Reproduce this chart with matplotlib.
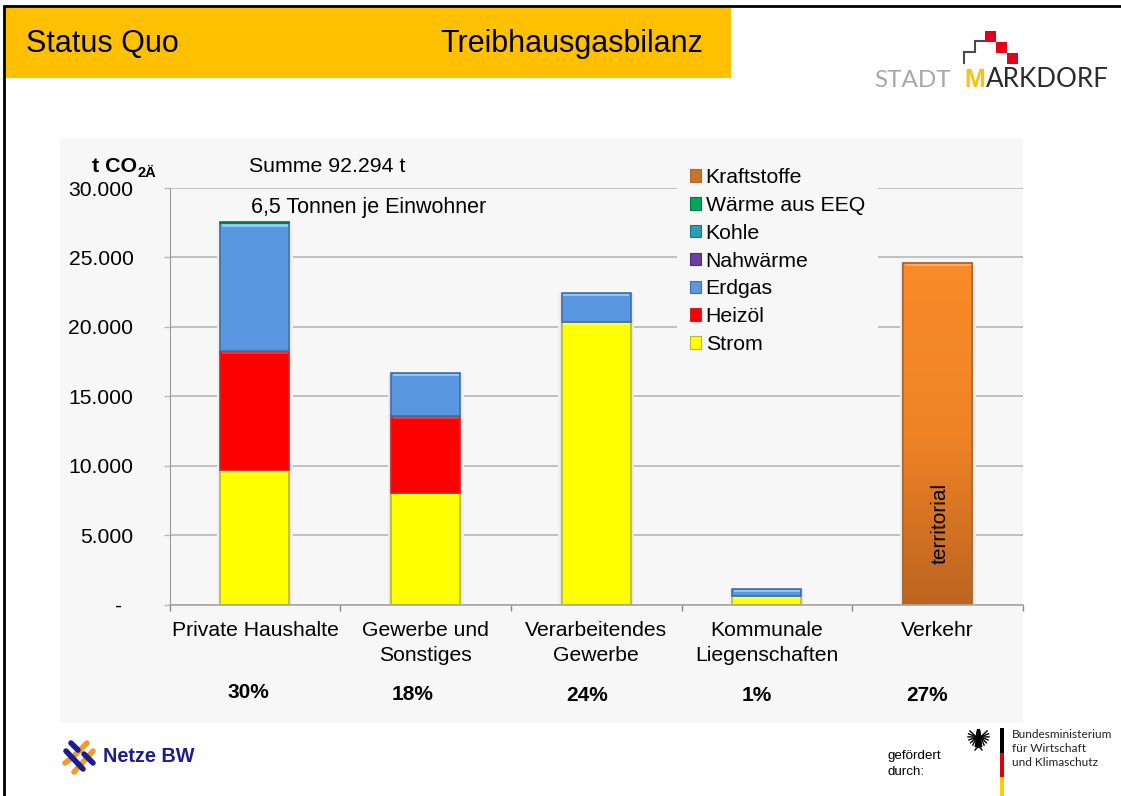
#!/usr/bin/env python3

import matplotlib
matplotlib.use('Agg')
import numpy as np
import matplotlib.pyplot as plt
from matplotlib.colors import LinearSegmentedColormap
from matplotlib.patches import Rectangle, Patch, Polygon
from matplotlib.ticker import FixedLocator, FixedFormatter

plt.rcParams['font.family'] = ['Liberation Sans', 'DejaVu Sans']

# -----------------------------
# Data
# -----------------------------
categories = ['Private Haushalte', 'Gewerbe und\nSonstiges', 'Verarbeitendes\nGewerbe',
              'Kommunale\nLiegenschaften', 'Verkehr']
shares = ['30%', '18%', '24%', '1%', '27%']
strom = [9690, 8030, 20350, 610, 0]
heizoel = [8560, 5550, 0, 0, 0]
erdgas = [9200, 3090, 2080, 510, 0]
nahwaerme = [0, 0, 0, 0, 0]
kohle = [0, 0, 0, 0, 0]
waerme_eeq = [100, 0, 0, 0, 0]
kraftstoffe = [0, 0, 0, 0, 24600]
y_ticks = [0, 5000, 10000, 15000, 20000, 25000, 30000]
y_tick_labels = ['-  ', '5.000', '10.000', '15.000', '20.000', '25.000', '30.000']

series = [
    ('Strom', strom, '#FFFF00', '#B9B92A', '#FFFF33'),
    ('Heizöl', heizoel, '#FF0000', '#C8262A', '#FF3030'),
    ('Erdgas', erdgas, '#5B96E0', '#3E6FA8', '#8FC8F2'),
    ('Nahwärme', nahwaerme, '#6A3F9E', '#4E2F75', '#8E66BE'),
    ('Kohle', kohle, '#2E9DB5', '#1F7487', '#62C6DC'),
    ('Wärme aus EEQ', waerme_eeq, '#00A65A', '#007A45', '#00A65A'),
    ('Kraftstoffe', kraftstoffe, '#F98B28', '#A96A35', '#FBA860'),
]

W, H = 1121, 796
PANEL = '#F7F7F7'


def fx(px):
    return px / W


def fy(py):
    return 1 - py / H


fig = plt.figure(figsize=(W / 100, H / 100), dpi=100, facecolor='white')

# -----------------------------
# Page background (pixel coordinates)
# -----------------------------
bg = fig.add_axes([0, 0, 1, 1], zorder=0)
bg.set_xlim(0, W)
bg.set_ylim(H, 0)
bg.axis('off')
bg.add_patch(Rectangle((60, 138), 963, 585, fc=PANEL, ec='none'))
bg.add_patch(Rectangle((5, 8), 726, 70, fc='#FFC000', ec='none'))
bg.plot([4, 4, W], [H, 6, 6], color='black', lw=2.0, solid_joinstyle='miter')

bg.text(26.5, 44, 'Status Quo', fontsize=22, va='center', ha='left')
bg.text(440.5, 44, 'Treibhausgasbilanz', fontsize=22, va='center', ha='left')

# Stadt Markdorf logo
for sx, sy in [(985, 31), (996, 42), (1007, 53)]:
    bg.add_patch(Rectangle((sx, sy), 11, 10.5, fc='#E2001A', ec='none'))
bg.plot([964, 964, 975, 975, 985], [63, 52, 52, 41, 41], color='#4A4A4A', lw=1.5,
        solid_joinstyle='miter')
logo_font = ['Lato', 'Liberation Sans']
bg.text(874, 87, 'STADT', fontsize=17.5, color='#A8A8A8', family=logo_font, va='baseline')
bg.text(964, 87, 'M', fontsize=18, color='#FDC110', family='Liberation Sans', weight='bold', va='baseline')
bg.text(986, 87, 'ARKDORF', fontsize=18.7, color='#2B2B2B', family=logo_font, va='baseline')

# Netze BW logo
navy = '#1B1E8C'
orange = '#F39A2B'
for (x0, y0), (x1, y1), col in [
        ((65, 763), (72, 758), orange), ((74, 772), (93, 751), orange),
        ((75, 755), (87, 743), orange),
        ((71, 743), (78, 750), navy), ((66, 751), (83, 769), navy),
        ((84, 754), (93, 763), navy)]:
    bg.plot([x0, x1], [y0, y1], color=col, lw=4.0, solid_capstyle='round')
bg.text(103, 756, 'Netze BW', fontsize=14.3, weight='bold', color=navy, va='center')

# Funding note
bg.text(887, 756.5, 'gefördert', fontsize=9.6, va='center')
bg.text(887, 772, 'durch:', fontsize=9.6, va='center')
for side in (-1, 1):
    for ang in np.linspace(-35, 85, 8):
        dx = 10.5 * np.cos(np.radians(ang)) * (1 - 0.25 * max(ang, 0) / 85)
        dy = 10.5 * np.sin(np.radians(ang))
        bg.plot([978.5 + side * 2, 978.5 + side * dx], [737, 737 + dy], color='black', lw=1.0)
    bg.plot([978.5, 978.5 + side * 3.5], [746, 750], color='black', lw=1.0)
bg.add_patch(Polygon([(977, 729), (980, 729), (981, 733), (981, 747), (976, 747), (976, 733)],
                     fc='black', ec='none'))
bg.add_patch(Rectangle((1000, 728), 4, 25, fc='black', ec='none'))
bg.add_patch(Rectangle((1000, 753), 4, 24, fc='#DD0000', ec='none'))
bg.add_patch(Rectangle((1000, 777), 4, 19, fc='#FFCE00', ec='none'))
for ty, line in [(734, 'Bundesministerium'), (748, 'für Wirtschaft'), (762, 'und Klimaschutz')]:
    bg.text(1012, ty, line, fontsize=8.6, family=['Lato', 'Liberation Sans'], color='#222222', va='center')

# -----------------------------
# Chart
# -----------------------------
ax_left, ax_right, ax_top, ax_bottom = 169.6, 1023, 188, 604.5
ax = fig.add_axes([fx(ax_left), fy(ax_bottom), (ax_right - ax_left) / W, (ax_bottom - ax_top) / H],
                  zorder=1)
ax.patch.set_alpha(0)
ax.set_xlim(0, 5)
ax.set_ylim(0, 30000)

px_y = 30000 / (ax_bottom - ax_top)
px_x = 5 / (ax_right - ax_left)
centers = np.arange(5) + 0.5
bar_w = 69 * px_x

totals = np.sum([s[1] for s in series], axis=0)
ax.bar(centers, totals, bar_w + 7 * px_x, color='#F0F0F0', zorder=2)
ax.bar(centers, totals, bar_w + 3.5 * px_x, color='#E4E4E4', zorder=2)

bottom = np.zeros(5)
for name, vals, col, edge, light in series:
    vals = np.array(vals, dtype=float)
    mask = vals > 0
    bars = ax.bar(centers[mask], vals[mask], bar_w, bottom=bottom[mask], color=col,
                  edgecolor=edge, linewidth=1.2, zorder=3)
    if name == 'Kraftstoffe':
        cmap = LinearSegmentedColormap.from_list('fuel', ['#F98B28', '#F08326', '#BC6420'])
        for b in bars:
            x0, w, h = b.get_x(), b.get_width(), b.get_height()
            im = ax.imshow(np.linspace(0, 1, 128).reshape(-1, 1), cmap=cmap, aspect='auto',
                           extent=[x0, x0 + w, 0, h], origin='upper', zorder=3.2)
            im.set_clip_path(b)
            ax.add_patch(Rectangle((x0, 0), w, h, fc='none', ec=edge, lw=1.2, zorder=3.4))
    if name != 'Wärme aus EEQ':
        top = bottom[mask] + vals[mask]
        ax.bar(centers[mask], 2.5 * px_y, bar_w - 3 * px_x, bottom=top - 3.2 * px_y,
               color=light, zorder=3.5)
    bottom = bottom + vals
ax.set_xlim(0, 5)
ax.set_ylim(0, 30000)

ax.set_yticks(y_ticks)
ax.set_yticklabels(y_tick_labels)
ax.grid(axis='y', color='#B7B7B7', lw=1.2, zorder=1)
ax.set_axisbelow(True)
ax.tick_params(axis='y', length=4.5, width=1.0, color='#B7B7B7', labelsize=15.2, pad=21.5)

ax.xaxis.set_major_locator(FixedLocator(np.arange(6)))
ax.xaxis.set_major_formatter(FixedFormatter([''] * 6))
ax.xaxis.set_minor_locator(FixedLocator(centers))
ax.xaxis.set_minor_formatter(FixedFormatter(categories))
ax.tick_params(axis='x', which='major', length=4.5, width=1.0, color='#868686', direction='out')
ax.tick_params(axis='x', which='minor', length=0, labelsize=15.2, pad=12.2)
for lab in ax.xaxis.get_minorticklabels():
    lab.set_linespacing(1.38)

for side in ['top', 'right']:
    ax.spines[side].set_visible(False)
ax.spines['left'].set_color('#9A9A9A')
ax.spines['bottom'].set_color('#A6A6A6')
ax.spines['bottom'].set_linewidth(1.2)
ax.spines['bottom'].set_zorder(4)

ax.text(4.5 + 2 * px_x, (ax_bottom - 523) * px_y, 'territorial', rotation=90, fontsize=15,
        ha='center', va='center', zorder=5, color='black')

handles = [Patch(facecolor=s[2] if s[0] != 'Kraftstoffe' else '#C97426', edgecolor=s[3], lw=0.8, label=s[0])
           for s in series[::-1]]
leg = ax.legend(handles=handles, loc='upper left', bbox_to_anchor=(fx(677), fy(155)),
                bbox_transform=fig.transFigure, fontsize=15.3, frameon=True, facecolor=PANEL,
                edgecolor='none', framealpha=1, fancybox=False, borderaxespad=0, borderpad=0.6,
                labelspacing=0.42, handlelength=0.55, handleheight=0.55, handletextpad=0.2)
leg.set_zorder(2.5)

# -----------------------------
# Notes
# -----------------------------
fig.text(fx(137), fy(166), 't CO', fontsize=15.4, weight='bold', ha='right', va='center')
fig.text(fx(137), fy(173), '2Ä', fontsize=10.5, weight='bold', ha='left', va='center')
fig.text(fx(249), fy(166), 'Summe 92.294 t', fontsize=15.3, va='center')
fig.text(fx(251), fy(207.5), '6,5 Tonnen je Einwohner', fontsize=15.5, va='center')

for share, px, py in zip(shares, [248, 413, 587, 757, 927.5], [692.5, 694, 695.5, 695.5, 695.5]):
    fig.text(fx(px), fy(py), share, fontsize=15, weight='bold', ha='center', va='center')

fig.savefig('out.png', dpi=100)
plt.close()
